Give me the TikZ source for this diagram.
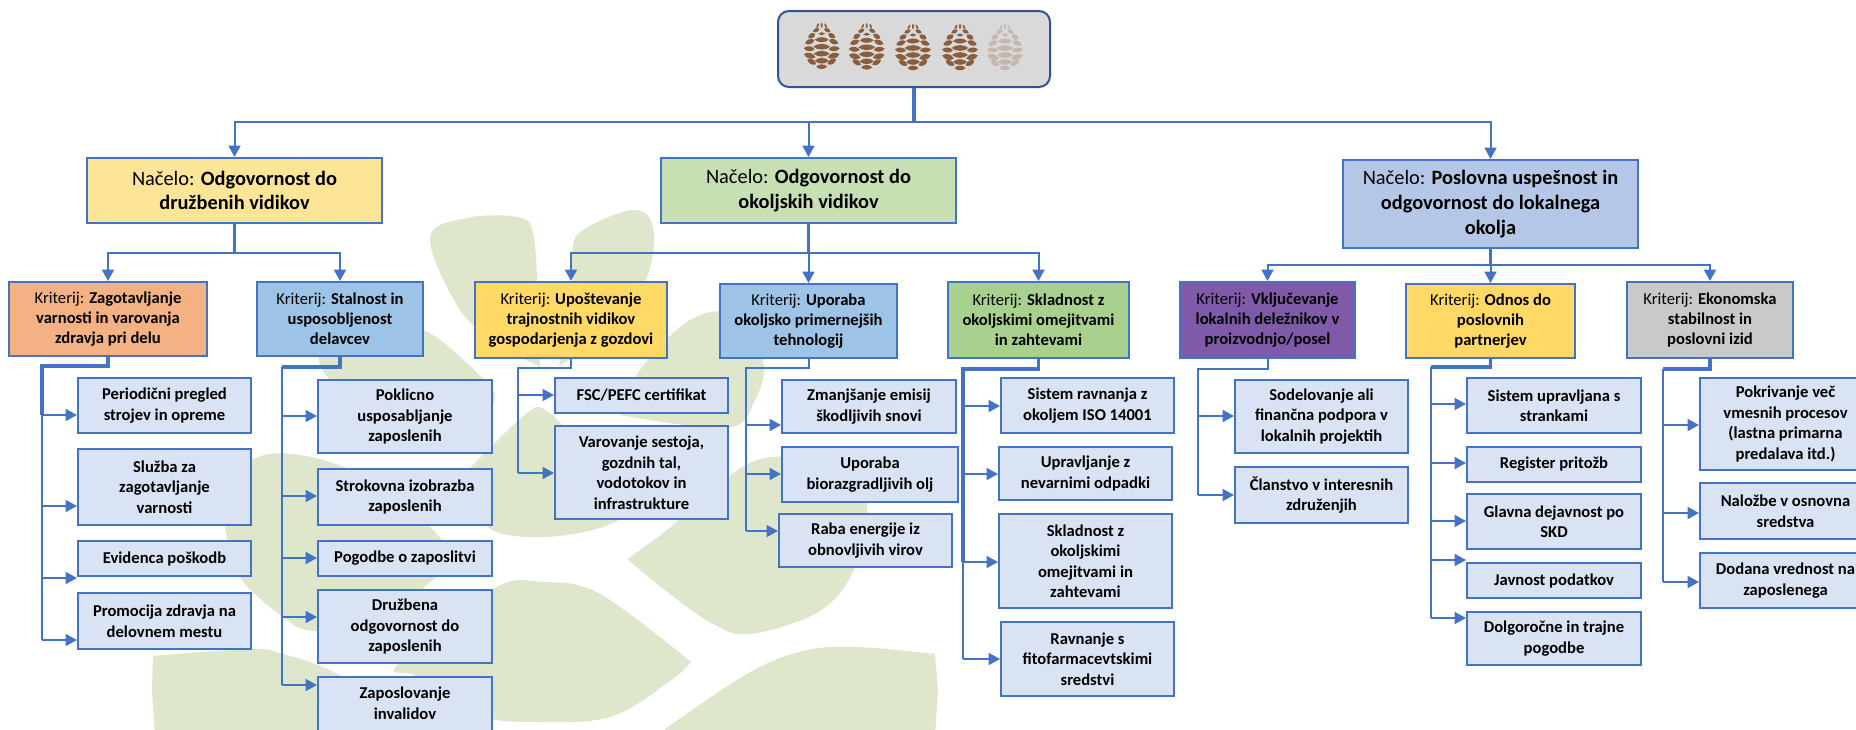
\documentclass[tikz,border=0pt]{standalone}
\usepackage{fontspec}
\setmainfont{Carlito}
\usetikzlibrary{arrows.meta,calc}
\definecolor{leaf}{HTML}{DEE7CC}
\definecolor{edge}{HTML}{4472C4}
\definecolor{rootedge}{HTML}{2F5597}
\definecolor{coneb}{HTML}{8A5D3F}
\definecolor{conef}{HTML}{C6B7AE}
\definecolor{subf}{HTML}{DAE3F3}
\definecolor{nA}{HTML}{FDE597}
\definecolor{nB}{HTML}{C6E0B4}
\definecolor{nC}{HTML}{B4C7E7}
\definecolor{kA}{HTML}{F4B183}
\definecolor{kB}{HTML}{9DC3E6}
\definecolor{kC}{HTML}{FFD966}
\definecolor{kD}{HTML}{A9D18E}
\definecolor{kE}{HTML}{7F5AA8}
\definecolor{kF}{HTML}{C9C9C9}
\tikzset{
  base/.style={draw=edge,line width=2pt,inner sep=0pt,align=center,text=black},
  rootbox/.style={draw=rootedge,line width=2pt,fill=black!15,rounded corners=11pt,inner sep=0pt},
  nacelo/.style={base,font=\fontsize{20.4}{24.6}\selectfont},
  krit/.style={base,font=\fontsize{16.6}{20}\selectfont},
  item/.style={base,fill=subf,font=\fontsize{16.6}{20.5}\selectfont\bfseries},
  conn/.style={draw=edge,line width=2pt},
  thick conn/.style={draw=edge,line width=3.2pt},
  arrow/.style={conn,-{Triangle[length=11.5pt,width=12pt]}},
}
\newcommand{\bx}[7]{%
  \pgfmathsetmacro\wid{#4-#2}\pgfmathsetmacro\hei{#5-#3}%
  \node[#6,minimum width=\wid pt,minimum height=\hei pt] (#1) at ({(#2+#4)/2},{(#3+#5)/2}) {#7};}
\newcommand{\lens}[5]{\fill[shift={(#1,#2)},rotate=#5] ({-#3},0) .. controls ({-#3/2},{-#4*1.4}) and ({#3/2},{-#4*1.4}) .. ({#3},0) .. controls ({#3/2},{#4*1.4}) and ({-#3/2},{#4*1.4}) .. cycle;}
\newcommand{\pinecone}[3]{%
  \begin{scope}[shift={(#1,#2)},fill=#3]
    \lens{-4}{3}{1}{2.5}{-25}\lens{0}{2.5}{1}{2.5}{0}\lens{4}{3}{1}{2.5}{25}
    \lens{-5.5}{7.5}{3.5}{1.8}{25}\lens{5.5}{7.5}{3.5}{1.8}{-25}
    \lens{0}{11}{3.5}{1.5}{0}
    \lens{-10}{13}{4}{2.3}{30}\lens{10}{13}{4}{2.3}{-30}
    \lens{0}{17}{7}{2.4}{0}
    \lens{-12}{19}{5}{2.4}{20}\lens{12}{19}{5}{2.4}{-20}
    \lens{0}{24}{8.5}{2.7}{0}
    \lens{-12.5}{26}{5.5}{2.4}{-5}\lens{12.5}{26}{5.5}{2.4}{5}
    \lens{0}{31}{8}{2.7}{0}
    \lens{-12}{33}{6}{2.7}{-15}\lens{12}{33}{6}{2.7}{15}
    \lens{0}{38}{7}{2.7}{0}
    \lens{-10}{39}{5}{2.4}{-30}\lens{10}{39}{5}{2.4}{30}
    \lens{0}{44}{5.5}{2.2}{0}
  \end{scope}}
\newcommand{\br}[3]{\draw[arrow] (#1 |- 0,#3) -- (#2.west |- 0,#3);}
\begin{document}
\begin{tikzpicture}[x=1pt,y=-1pt]
\useasboundingbox (0,0) rectangle (1856,729);
\clip (0,0) rectangle (1856,729);
\fill[white] (0,0) rectangle (1856,729);
% background leaves
\begin{scope}[fill=leaf]
\fill plot[smooth,tension=.6] coordinates {(540,367) (500,345) (460,310) (430,238) (467,218) (517,217) (533,233) (538,300) (540,367)};
\fill plot[smooth,tension=.6] coordinates {(559,366) (573,300) (572,253) (583,230) (633,210) (653,227) (647,277) (610,330) (559,366)};
\fill plot[smooth,tension=.6] coordinates {(495,393) (467,363) (423,330) (370,325) (326,340) (326,375) (400,440) (480,420) (495,393)};
\fill plot[smooth,tension=.6] coordinates {(470,575) (433,530) (390,490) (344,467) (300,455) (261,456) (228,480) (225,527) (240,577) (283,617) (314,631) (380,625) (437,577) (470,575)};
\fill plot[smooth,tension=.6] coordinates {(470,468) (527,413) (547,411) (580,440) (650,480) (617,521) (545,537) (485,525) (470,468)};
\fill plot[smooth,tension=.6] coordinates {(620,415) (640,370) (690,320) (735,315) (763,360) (755,400) (727,428) (620,415)};
\fill plot[smooth,tension=.6] coordinates {(627,559) (667,530) (705,495) (750,463) (790,457) (840,470) (867,505) (855,567) (820,611) (750,634) (713,624) (670,594) (627,559)};
\fill plot[smooth,tension=.6] coordinates {(691,662) (600,594) (543,582) (493,589) (398,664) (418,677) (480,715) (533,722) (610,717) (670,681) (691,662)};
\fill plot[smooth,tension=.6] coordinates {(153,656) (250,649) (283,654) (337,674) (420,729)};
\fill (153,656) -- (420,729) -- (155,735) -- (152,691) -- cycle;
\fill plot[smooth,tension=.6] coordinates {(935,654) (857,647) (803,651) (747,674) (665,729)};
\fill (935,654) -- (665,729) -- (665,735) -- (935,735) -- (938,691) -- cycle;
\end{scope}
% root and pine cones
\bx{root}{778}{11}{1050}{87}{rootbox}{}
\pinecone{821.7}{22.7}{coneb}
\pinecone{866.7}{23.3}{coneb}
\pinecone{913}{24}{coneb}
\pinecone{960}{24}{coneb}
\pinecone{1005}{24}{conef}
% principles
\bx{n1}{87}{158}{382}{223}{nacelo,fill=nA}{Načelo: \textbf{Odgovornost do}\\\textbf{družbenih vidikov}}
\bx{n2}{661}{158}{956}{223}{nacelo,fill=nB}{Načelo: \textbf{Odgovornost do}\\\textbf{okoljskih vidikov}}
\bx{n3}{1343}{160}{1638}{248}{nacelo,fill=nC}{Načelo: \textbf{Poslovna uspešnost in}\\\textbf{odgovornost do lokalnega}\\\textbf{okolja}}
% criteria
\bx{k1}{9}{282}{207}{356}{krit,fill=kA}{Kriterij: \textbf{Zagotavljanje}\\\textbf{varnosti in varovanja}\\\textbf{zdravja pri delu}}
\bx{k2}{257}{282}{423}{356}{krit,fill=kB}{Kriterij: \textbf{Stalnost in}\\\textbf{usposobljenost}\\\textbf{delavcev}}
\bx{k3}{475}{282}{667}{358}{krit,fill=kC}{Kriterij: \textbf{Upoštevanje}\\\textbf{trajnostnih vidikov}\\\textbf{gospodarjenja z gozdovi}}
\bx{k4}{720}{284}{897}{358}{krit,fill=kB}{Kriterij: \textbf{Uporaba}\\\textbf{okoljsko primernejših}\\\textbf{tehnologij}}
\bx{k5}{948}{282}{1129}{358}{krit,fill=kD}{Kriterij: \textbf{Skladnost z}\\\textbf{okoljskimi omejitvami}\\\textbf{in zahtevami}}
\bx{k6}{1180}{282}{1355}{358}{krit,fill=kE}{Kriterij: \textbf{Vključevanje}\\\textbf{lokalnih deležnikov v}\\\textbf{proizvodnjo/posel}}
\bx{k7}{1406}{284}{1575}{358}{krit,fill=kC}{Kriterij: \textbf{Odnos do}\\\textbf{poslovnih}\\\textbf{partnerjev}}
\bx{k8}{1627}{282}{1793}{358}{krit,fill=kF}{Kriterij: \textbf{Ekonomska}\\\textbf{stabilnost in}\\\textbf{poslovni izid}}
% items
\bx{a1}{78}{378}{251}{433}{item}{Periodični pregled\\strojev in opreme}
\bx{a2}{78}{449}{251}{525}{item}{Služba za\\zagotavljanje\\varnosti}
\bx{a3}{78}{541}{251}{576}{item}{Evidenca poškodb}
\bx{a4}{78}{593}{251}{649}{item}{Promocija zdravja na\\delovnem mestu}
\bx{b1}{318}{380}{492}{453}{item}{Poklicno\\usposabljanje\\zaposlenih}
\bx{b2}{318}{469}{492}{525}{item}{Strokovna izobrazba\\zaposlenih}
\bx{b3}{318}{541}{492}{576}{item}{Pogodbe o zaposlitvi}
\bx{b4}{318}{590}{492}{663}{item}{Družbena\\odgovornost do\\zaposlenih}
\bx{b5}{318}{677}{492}{750}{item}{Zaposlovanje\\invalidov\\\mbox{}}
\bx{c1}{555}{378}{728}{413}{item}{FSC/PEFC certifikat}
\bx{c2}{555}{426}{728}{519}{item}{Varovanje sestoja,\\gozdnih tal,\\vodotokov in\\infrastrukture}
\bx{d1}{782}{380}{956}{433}{item}{Zmanjšanje emisij\\škodljivih snovi}
\bx{d2}{782}{447}{958}{502}{item}{Uporaba\\biorazgradljivih olj}
\bx{d3}{779}{514}{952}{567}{item}{Raba energije iz\\obnovljivih virov}
\bx{e1}{1001}{378}{1174}{433}{item}{Sistem ravnanja z\\okoljem ISO 14001}
\bx{e2}{999}{447}{1172}{500}{item}{Upravljanje z\\nevarnimi odpadki}
\bx{e3}{999}{514}{1172}{608}{item}{Skladnost z\\okoljskimi\\omejitvami in\\zahtevami}
\bx{e4}{1001}{622}{1174}{696}{item}{Ravnanje s\\fitofarmacevtskimi\\sredstvi}
\bx{f1}{1235}{380}{1408}{453}{item}{Sodelovanje ali\\finančna podpora v\\lokalnih projektih}
\bx{f2}{1235}{467}{1408}{523}{item}{Članstvo v interesnih\\združenjih}
\bx{g1}{1467}{378}{1641}{433}{item}{Sistem upravljana s\\strankami}
\bx{g2}{1467}{447}{1641}{482}{item}{Register pritožb}
\bx{g3}{1467}{494}{1641}{549}{item}{Glavna dejavnost po\\SKD}
\bx{g4}{1467}{563}{1641}{598}{item}{Javnost podatkov}
\bx{g5}{1467}{612}{1641}{665}{item}{Dolgoročne in trajne\\pogodbe}
\bx{h1}{1700}{378}{1871}{470}{item}{Pokrivanje več\\vmesnih procesov\\(lastna primarna\\predalava itd.)}
\bx{h2}{1700}{483}{1871}{539}{item}{Naložbe v osnovna\\sredstva}
\bx{h3}{1700}{553}{1871}{608}{item}{Dodana vrednost na\\zaposlenega}
% top level connectors
\coordinate (h0) at (914,122);
\draw[thick conn] (root.south) -- (h0);
\draw[arrow] (h0) -| (n1.north);
\draw[arrow] (h0) -| (n2.north);
\draw[arrow] (h0) -| (n3.north);
\coordinate (h1c) at (234.5,253);
\draw[thick conn] (n1.south) -- (h1c);
\draw[arrow] (h1c) -| (k1.north);
\draw[arrow] (h1c) -| (k2.north);
\coordinate (h2c) at (808.5,253);
\draw[thick conn] (n2.south) -- (h2c);
\draw[arrow] (h2c) -| (k3.north);
\draw[arrow] (h2c) -- (k4.north);
\draw[arrow] (h2c) -| (k5.north);
\coordinate (h3c) at (1490.5,265);
\draw[thick conn] (n3.south) -- (h3c);
\draw[arrow] (h3c) -| (k6.north);
\draw[arrow] (h3c) -- (k7.north);
\draw[arrow] (h3c) -| (k8.north);
% trunks
\coordinate (t1) at (42,366);
\draw[thick conn] (k1.south) |- (t1) -- (t1 |- 0,415);
\draw[conn] (t1 |- 0,415) -- (t1 |- 0,640);
\br{t1}{a1}{415}\br{t1}{a2}{506}\br{t1}{a3}{578}\br{t1}{a4}{640}
\coordinate (t2) at (282,367);
\draw[thick conn] (k2.south) |- (t2);
\draw[conn] (t2) -- (t2 |- 0,685);
\br{t2}{b1}{416}\br{t2}{b2}{496}\br{t2}{b3}{558}\br{t2}{b4}{617}\br{t2}{b5}{685}
\coordinate (t3) at (518,368);
\draw[conn] (k3.south) |- (t3) -- (t3 |- 0,473);
\br{t3}{c1}{395}\br{t3}{c2}{473}
\coordinate (t4) at (746,368);
\draw[conn] (k4.south) |- (t4) -- (t4 |- 0,531);
\br{t4}{d1}{425}\br{t4}{d2}{474}\br{t4}{d3}{531}
\coordinate (t5) at (963,369);
\draw[thick conn] (k5.south) |- (t5) -- (t5 |- 0,562);
\draw[conn] (t5 |- 0,562) -- (t5 |- 0,659);
\br{t5}{e1}{406}\br{t5}{e2}{474}\br{t5}{e3}{562}\br{t5}{e4}{659}
\coordinate (t6) at (1198,369);
\draw[conn] (k6.south) |- (t6) -- (t6 |- 0,495);
\br{t6}{f1}{416}\br{t6}{f2}{495}
\coordinate (t7) at (1431,367);
\draw[thick conn] (k7.south) |- (t7);
\draw[conn] (t7) -- (t7 |- 0,618);
\br{t7}{g1}{404}\br{t7}{g2}{463}\br{t7}{g3}{521}\br{t7}{g4}{560}\br{t7}{g5}{618}
\coordinate (t8) at (1663,369);
\draw[thick conn] (k8.south) |- (t8);
\draw[conn] (t8) -- (t8 |- 0,582);
\br{t8}{h1}{425}\br{t8}{h2}{513}\br{t8}{h3}{582}
\end{tikzpicture}
\end{document}
